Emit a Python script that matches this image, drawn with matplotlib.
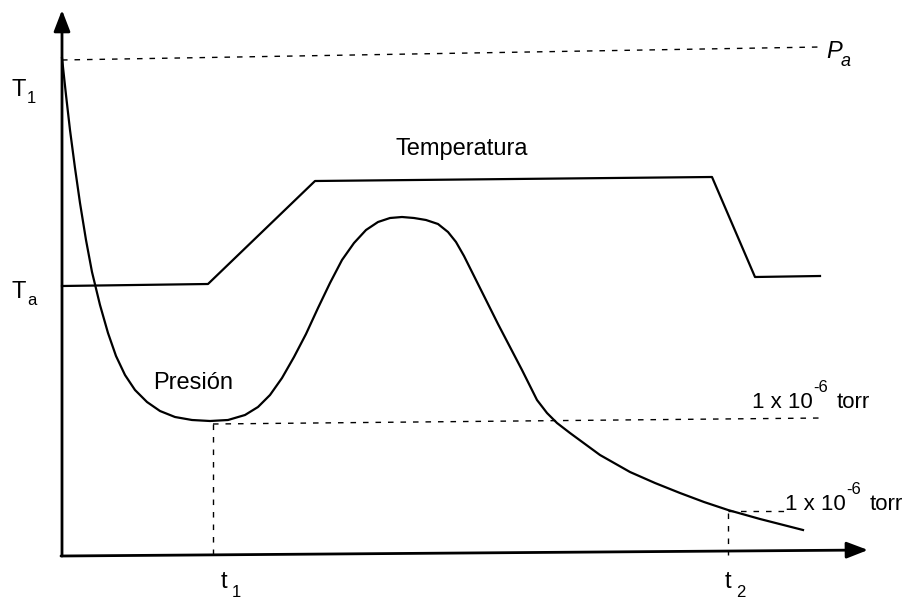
import matplotlib.pyplot as plt

plt.rcParams['font.family'] = ['Liberation Sans', 'DejaVu Sans']

# curve points (drawing units, y grows downward)
temp_x = [62, 208, 315, 712, 755, 820]
temp_y = [286, 284, 181, 177, 277, 276]

pres_x = [62, 66, 70, 75, 80, 86, 92, 100, 108, 116, 125, 135, 147, 160, 175,
          192, 210, 228, 245, 258, 270, 282, 294, 306, 318, 330, 342, 354,
          366, 378, 390, 402, 414, 426, 438, 448,
          456, 464, 474, 486, 498, 510, 522, 537, 547, 557, 570, 585, 600,
          630, 655, 680, 704, 728, 760, 803]
pres_y = [58, 95, 130, 168, 203, 240, 272, 305, 333, 356, 375, 390, 402, 411,
          417, 420, 421, 420, 415, 407, 395, 378, 357, 334, 308, 283, 260,
          243, 230, 222, 218, 217, 218, 220, 224, 232,
          242, 256, 276, 300, 324, 347, 370, 400, 413, 423, 433, 444, 455,
          472, 483, 493, 502, 510, 519, 530]

pa_line = ([62, 820], [60, 47])
vac1_h = ([213, 822], [424, 418])
vac1_v = ([213, 213], [424, 555])
vac2_h = ([728, 785], [511, 511])
vac2_v = ([728, 728], [513, 555])

fig = plt.figure(figsize=(9.08, 6.03), dpi=100)
ax = fig.add_axes([0, 0, 1, 1])
ax.set_xlim(0, 908)
ax.set_ylim(603, 0)
ax.axis('off')

# axes with arrows
ax.annotate('', xy=(62, 10), xytext=(62, 556),
            arrowprops=dict(arrowstyle='-|>,head_length=1.3,head_width=0.5',
                            lw=2, color='black', shrinkA=0, shrinkB=0))
ax.annotate('', xy=(868, 550), xytext=(61, 556),
            arrowprops=dict(arrowstyle='-|>,head_length=1.3,head_width=0.5',
                            lw=2, color='black', shrinkA=0, shrinkB=0))

ax.plot(temp_x, temp_y, color='black', lw=1.6)
ax.plot(pres_x, pres_y, color='black', lw=1.6)

dash = dict(color='black', lw=1, linestyle=(0, (4, 5)))
for xs, ys in [pa_line, vac1_h, vac1_v, vac2_h, vac2_v]:
    ax.plot(xs, ys, **dash)

fs = 17
ax.text(12, 96, 'T', fontsize=fs, va='baseline')
ax.text(27, 103, '1', fontsize=12, va='baseline')
ax.text(12, 298, 'T', fontsize=fs, va='baseline')
ax.text(27, 305, 'a', fontsize=12, va='baseline')
ax.text(826, 58, 'P', fontsize=fs, va='baseline', style='italic')
ax.text(841, 66, 'a', fontsize=13, va='baseline', style='italic')

ax.text(462, 155, 'Temperatura', fontsize=fs, ha='center', va='baseline')
ax.text(193, 389, 'Presión', fontsize=fs, ha='center', va='baseline')

ax.text(752, 408, '1 x 10', fontsize=16, va='baseline')
ax.text(813, 392, '-6', fontsize=12, va='baseline')
ax.text(837, 408, 'torr', fontsize=16, va='baseline')
ax.text(785, 510, '1 x 10', fontsize=16, va='baseline')
ax.text(846, 494, '-6', fontsize=12, va='baseline')
ax.text(870, 510, 'torr', fontsize=16, va='baseline')

ax.text(221, 588, 't', fontsize=fs, va='baseline')
ax.text(232, 597, '1', fontsize=12, va='baseline')
ax.text(725, 588, 't', fontsize=fs, va='baseline')
ax.text(736, 597, '2', fontsize=12, va='baseline')

fig.savefig('out.png', dpi=100, facecolor='white')
